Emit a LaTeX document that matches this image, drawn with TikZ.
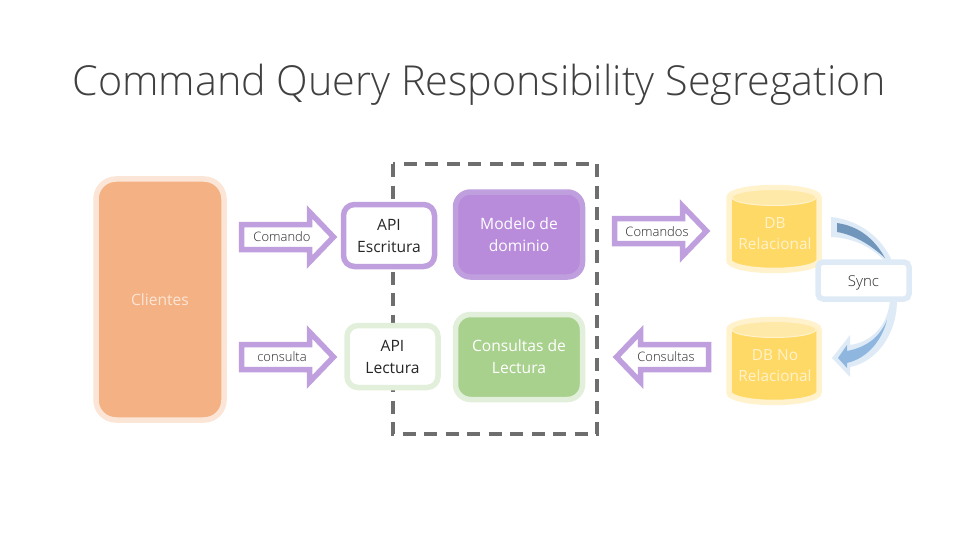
\documentclass[tikz,border=0pt]{standalone}
\usepackage{fontspec}
\setmainfont{Open Sans Light}
\newfontfamily\regfont{Open Sans}
\definecolor{purp}{HTML}{BF9FDD}
\definecolor{purpfill}{HTML}{B88CDB}
\definecolor{greenb}{HTML}{E2EFDA}
\definecolor{greenf}{HTML}{A9D18E}
\definecolor{orangef}{HTML}{F4B183}
\definecolor{orangeb}{HTML}{FBE5D6}
\definecolor{yelb}{HTML}{FFF2CC}
\definecolor{yelf}{HTML}{FFD966}
\definecolor{yelt}{HTML}{FFE9A8}
\definecolor{blueb}{HTML}{DEEBF7}
\definecolor{bluea}{HTML}{7196BC}
\definecolor{blueb2}{HTML}{8FB6DF}
\definecolor{txt}{HTML}{262626}
\definecolor{titlec}{HTML}{404040}
\definecolor{dashc}{HTML}{6E6E6E}
\tikzset{
  box/.style={draw,rounded corners=11pt,line width=5.5pt,align=center,font=\regfont\fontsize{15.6}{22}\selectfont,inner sep=0pt},
  apibox/.style={box,fill=white,text=txt,minimum width=91pt,minimum height=62pt},
  modbox/.style={box,text=white,minimum width=127pt,minimum height=85pt,rounded corners=15pt},
  barrow/.style={draw=purp,fill=white,line width=5.5pt,miter limit=10},
  blabel/.style={font=\fontsize{13}{15}\selectfont,text=txt,inner sep=0pt},
  dbtext/.style={font=\regfont\fontsize{15.4}{21}\selectfont,text=yelb,align=center,inner sep=0pt},
  pics/dbcyl/.style={code={
    \draw[draw=yelb,fill=yelf,line width=5.5pt] (-45,-31.5) arc[start angle=180,end angle=360,x radius=45,y radius=10] -- (45,31.5) arc[start angle=0,end angle=180,x radius=45,y radius=10] -- cycle;
    \draw[draw=yelb,fill=yelt,line width=1pt] (0,-31.5) ellipse[x radius=42,y radius=8];
  }},
}
\begin{document}
\begin{tikzpicture}[x=1pt,y=-1pt]
\useasboundingbox (0,0) rectangle (960,540);
\node[font=\fontsize{41.3}{48}\selectfont,text=titlec,inner sep=0pt] (title) at (479,85) {Command Query Responsibility Segregation};
% dashed frame
\coordinate (f1) at (393,164);
\coordinate (f2) at (597,434);
\draw[dashc,line width=4.5pt,dash pattern=on 13pt off 8.5pt] (f1) rectangle (f2);
% clients
\node[box,draw=orangeb,fill=orangef,minimum width=128pt,minimum height=241pt,rounded corners=20pt,text=orangeb] (cli) at (160,299.5) {};
\node[font=\regfont\fontsize{15.6}{18}\selectfont,text=orangeb,inner sep=0pt] (clit) at (160,299.5) {Clientes};
% api
\node[apibox,draw=purp] (apiw) at (389,235.5) {API\\Escritura};
\node[apibox,draw=greenb] (apir) at (392.5,356.5) {API\\Lectura};
% models
\node[modbox,draw=purp,fill=purpfill] (mod) at (519,234.5) {Modelo de\\dominio};
\node[modbox,draw=greenb,fill=greenf] (con) at (519,357) {Consultas de\\Lectura};
% arrows
\draw[barrow] (241.5,224.5) -- (309.5,224.5) -- (309.5,212) -- (333.5,237) -- (309.5,262) -- (309.5,249.5) -- (241.5,249.5) -- cycle;
\node[blabel] (l1) at (282,237) {Comando};
\draw[barrow] (241.5,344.5) -- (309.5,344.5) -- (309.5,332) -- (333.5,357) -- (309.5,382) -- (309.5,369.5) -- (241.5,369.5) -- cycle;
\node[blabel] (l2) at (282,357) {consulta};
\draw[barrow] (614.5,218.5) -- (682.5,218.5) -- (682.5,206) -- (706.5,231) -- (682.5,256) -- (682.5,243.5) -- (614.5,243.5) -- cycle;
\node[blabel] (l3) at (657,232) {Comandos};
\draw[barrow] (708.5,344.5) -- (640.5,344.5) -- (640.5,332) -- (616.5,357) -- (640.5,382) -- (640.5,369.5) -- (708.5,369.5) -- cycle;
\node[blabel] (l4) at (666,357) {Consultas};
% dbs
\pic at (774,229) {dbcyl};
\node[dbtext] (db1t) at (775,234) {DB\\Relacional};
\pic at (774,361) {dbcyl};
\node[dbtext] (db2t) at (775,366) {DB No\\Relacional};
% sync
\coordinate (s1) at (831,217);
\coordinate (s2) at (892,261);
\coordinate (s3) at (885,261);
\coordinate (s4) at (831,237);
\fill[blueb] (s1) .. controls (860,220) and (882,238) .. (s2) -- (s3) .. controls (872,248) and (855,238) .. (s4) -- cycle;
\fill[bluea] (837,223) .. controls (858,226) and (874,238) .. (885,258) .. controls (872,246) and (855,235) .. (837,232) -- cycle;
\coordinate (t1) at (897,300);
\coordinate (t2) at (890,300);
\fill[blueb] (t2) .. controls (888,325) and (872,342) .. (850,345) -- (850,335) -- (832,358) -- (850,377) -- (850,367) .. controls (876,362) and (897,335) .. (t1) -- cycle;
\fill[blueb2] (887,320) .. controls (880,336) and (868,347) .. (847,351) -- (847,345) -- (838,358) -- (847,368) -- (847,363) .. controls (868,358) and (882,340) .. (887,320) -- cycle;
\node[box,draw=blueb,fill=white,text=txt,minimum width=91pt,minimum height=37pt,rounded corners=5pt,font=\fontsize{15}{16}\selectfont] (sync) at (863.5,280.5) {\raisebox{-5.5pt}[0pt][0pt]{Sync}};
\end{tikzpicture}
\end{document}
